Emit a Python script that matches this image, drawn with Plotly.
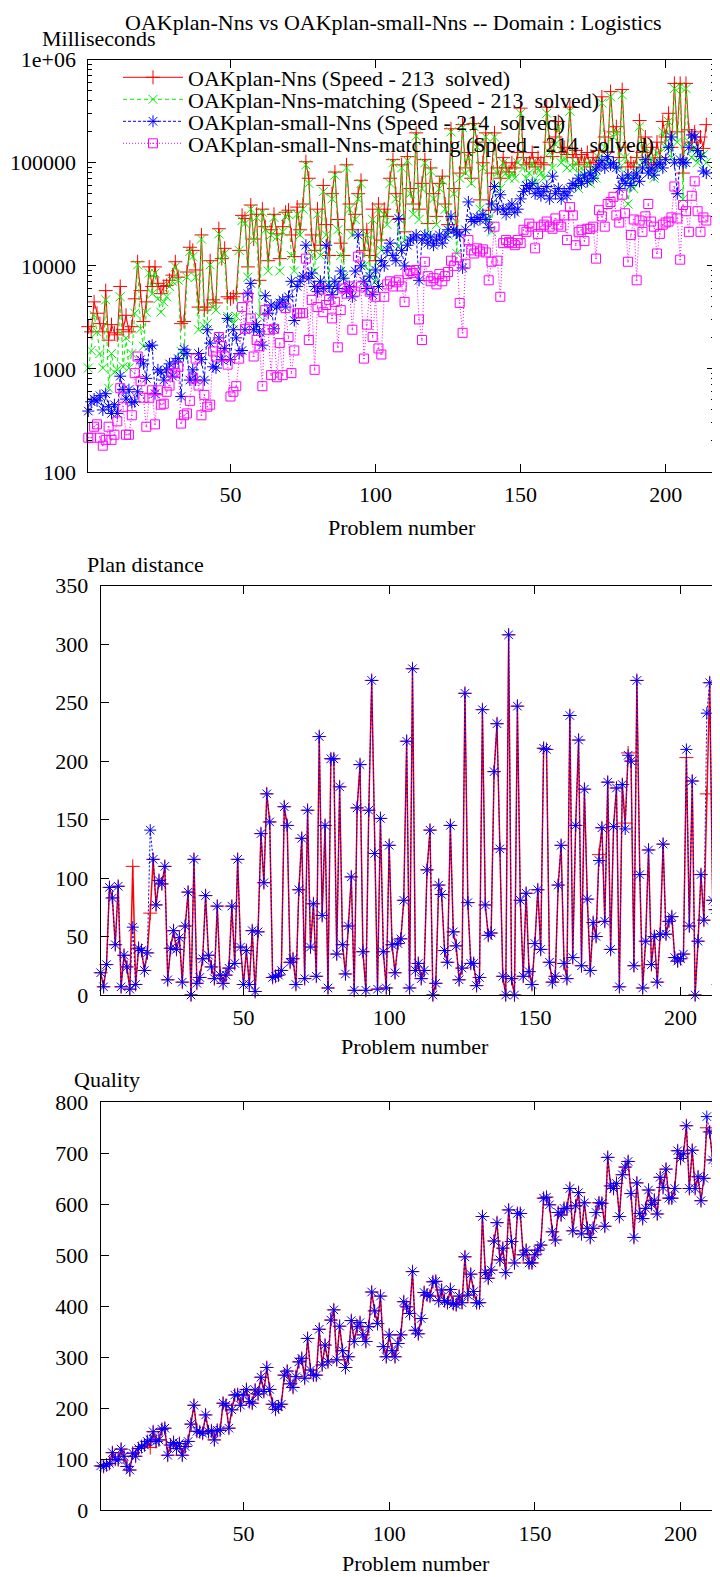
import plotly.graph_objects as go

# The page puts the figure 8 px in from the top-left corner of the window,
# so the figure is sized to end exactly at the window's edges.
WIN_W, WIN_H = 720, 1577
OFF = 8
W, H = WIN_W - OFF, WIN_H - OFF
FONT = "Liberation Serif"
FS = 22

problems = list(range(1, 215))

# ---------------- Top chart: time (milliseconds, log scale) ----------------
speed_nns = [
    2570, 2290, 4470, 3470, 2750, 2290, 5750, 1900, 2690, 2240,
    2140, 6310, 2400, 3310, 2290, 2570, 4790, 10960, 5750, 2880,
    4470, 9770, 6310, 9770, 6760, 5370, 6310, 6460, 7240, 8130,
    10960, 7760, 2750, 2880, 8710, 15140, 14130, 9120, 3980, 19950,
    3720, 3980, 11220, 4680, 4370, 22910, 11750, 14790, 5010, 4790,
    5010, 5370, 14130, 30900, 28840, 9770, 38900, 18200, 31620, 7240,
    35480, 23990, 11220, 22390, 31620, 20420, 11750, 23990, 33110, 34670,
    19950, 12300, 37150, 22390, 39810, 102300, 70790, 19950, 14130, 35480,
    15850, 60260, 25120, 12590, 50120, 81280, 28180, 16600, 12590, 95500,
    39810, 22390, 31620, 50120, 67610, 14130, 22390, 12590, 35480, 11220,
    39810, 17780, 35480, 30200, 70790, 107200, 50120, 28180, 95500, 21380,
    114800, 56230, 39810, 195000, 35480, 63100, 107200, 25700, 89100, 50120,
    30200, 63100, 74130, 39810, 25120, 213800, 56230, 21380, 79430, 234400,
    89130, 125900, 70790, 239900, 158500, 43650, 100000, 195000, 34670, 79430,
    195000, 89130, 70790, 112200, 89130, 81280, 100000, 89130, 125900, 338800,
    112200, 95500, 100000, 125900, 91200, 112200, 100000, 95500, 346700, 158500,
    114800, 177800, 251200, 125900, 141300, 120200, 346700, 112200, 131800, 95500,
    120200, 100000, 125900, 91200, 112200, 100000, 131800, 436500, 177800, 125900,
    489800, 199500, 223900, 112200, 512900, 141300, 91200, 100000, 91200, 112200,
    257000, 125900, 177800, 100000, 141300, 95500, 158500, 112200, 251200, 177800,
    302000, 141300, 588800, 199500, 588800, 79430, 588800, 208900, 158500, 199500,
    138000, 177800, 138000, 234400,
]

speed_nns_matching = [
    1020, 1510, 3310, 2290, 1410, 1020, 4680, 650, 1410, 930,
    980, 5010, 1050, 2000, 1020, 1410, 3470, 10230, 2450, 1660,
    3550, 8510, 5370, 8510, 4790, 3550, 4470, 5010, 6310, 7080,
    9770, 7240, 1480, 1320, 7760, 13800, 12300, 7760, 2400, 18200,
    2570, 2750, 10230, 3980, 3720, 20420, 11220, 13180, 3240, 3090,
    2750, 3240, 14130, 27540, 25700, 7760, 35480, 17780, 29510, 3240,
    33110, 22390, 8910, 19950, 29510, 19050, 8910, 21380, 30200, 31620,
    12590, 8910, 31620, 19950, 35480, 95500, 63100, 12590, 8910, 31620,
    12590, 52480, 19950, 6760, 44670, 75860, 22390, 12590, 7940, 89130,
    35480, 19950, 28180, 44670, 63100, 10000, 19950, 8910, 28180, 7080,
    35480, 14130, 31620, 25120, 63100, 100000, 44670, 15490, 89130, 17780,
    104700, 50120, 31620, 182000, 28180, 56230, 100000, 19950, 83180, 44670,
    25120, 56230, 67610, 35480, 19950, 199500, 50120, 13180, 70790, 218800,
    79430, 112200, 63100, 223900, 141300, 35480, 89130, 177800, 28180, 21380,
    177800, 79430, 56230, 100000, 79430, 70790, 79430, 70790, 100000, 302000,
    89130, 70790, 79430, 100000, 63100, 89130, 79430, 70790, 302000, 125900,
    89130, 151400, 223900, 100000, 112200, 89130, 316200, 89130, 100000, 56230,
    89130, 70790, 100000, 63100, 89130, 70790, 112200, 380200, 141300, 100000,
    436500, 177800, 199500, 89130, 457100, 112200, 39810, 70790, 56230, 89130,
    223900, 100000, 141300, 79430, 112200, 70790, 125900, 89130, 199500, 141300,
    251200, 112200, 524800, 158500, 549500, 44670, 524800, 158500, 112200, 141300,
    100000, 125900, 120200, 100000,
]

speed_small = [
    390, 480, 510, 490, 550, 400, 575, 430, 370, 450,
    370, 850, 630, 510, 630, 470, 480, 600, 1230, 1120,
    810, 1660, 1700, 575, 980, 930, 780, 980, 1120, 850,
    1170, 1260, 540, 1550, 1410, 780, 980, 780, 1410, 1230,
    780, 2400, 1780, 1050, 1020, 2000, 1230, 1580, 3090, 1230,
    2400, 2000, 1410, 1510, 2400, 5370, 6760, 2400, 2690, 2290,
    1700, 5130, 3470, 4170, 2450, 3980, 4370, 4680, 3980, 5010,
    7080, 2950, 6310, 7080, 7940, 15850, 7590, 8510, 6310, 5620,
    7080, 6030, 15850, 6310, 5250, 7080, 6030, 8910, 7590, 5620,
    6310, 5010, 8910, 19950, 10000, 7080, 6030, 7940, 5250, 9120,
    6310, 11220, 10000, 14130, 16600, 12590, 11220, 28840, 14130, 10000,
    15850, 17780, 18620, 19950, 7240, 17780, 19950, 16600, 19050, 15850,
    17780, 19950, 16600, 19050, 22390, 30200, 22390, 20890, 19950, 9550,
    22390, 41690, 28180, 26920, 29510, 28180, 31620, 28180, 23440, 39810,
    58880, 35480, 48980, 35480, 31620, 36310, 39810, 33110, 35480, 44670,
    52480, 60260, 56230, 63100, 50120, 56230, 47860, 52480, 58880, 44670,
    74130, 50120, 56230, 44670, 52480, 47860, 56230, 63100, 60260, 70790,
    63100, 75860, 66070, 79430, 70790, 85110, 95500, 104700, 89130, 114800,
    95500, 100000, 89130, 56230, 70790, 63100, 75860, 60260, 70790, 79430,
    66070, 89130, 107200, 79430, 89130, 75860, 95500, 100000, 89130, 107200,
    141300, 177800, 100000, 50120, 107200, 100000, 100000, 141300, 186200, 177800,
    131800, 114800, 83180, 79430,
]

speed_small_matching = [
    215, 215, 275, 290, 215, 180, 205, 275, 205, 230,
    310, 650, 430, 230, 230, 355, 910, 1320, 760, 525,
    275, 525, 620, 290, 620, 450, 460, 600, 690, 910,
    910, 1050, 295, 355, 370, 490, 810, 1260, 690, 355,
    560, 430, 450, 1480, 1320, 2040, 1660, 1320, 1100, 540,
    600, 680, 1260, 3980, 2450, 5010, 3090, 1320, 1910, 1660,
    680, 3720, 2400, 870, 2450, 830, 1780, 870, 3890, 2040,
    910, 1510, 3470, 3470, 3470, 11750, 1910, 4680, 980, 3980,
    5890, 3550, 4170, 4680, 3090, 4470, 1620, 3720, 6030, 5370,
    6310, 2400, 5620, 12300, 6310, 1260, 2690, 5620, 2040, 5010,
    1580, 1380, 5010, 6610, 7080, 6310, 6920, 7240, 6310, 4470,
    8320, 8910, 8510, 9120, 3020, 1910, 10960, 7940, 7080, 7590,
    6610, 8320, 7080, 7940, 8710, 11220, 10000, 12020, 4370, 2240,
    10470, 17780, 14130, 13180, 14790, 13800, 14450, 13490, 7240, 10960,
    23990, 11220, 5010, 16600, 17780, 16980, 16600, 15850, 17780, 16600,
    22390, 21380, 25700, 23990, 14790, 20420, 23990, 25120, 26920, 23990,
    22910, 28840, 25120, 23990, 30900, 17780, 37150, 30900, 15850, 21380,
    22390, 17380, 22910, 22910, 23990, 11750, 34670, 30200, 23990, 39810,
    41690, 46770, 30900, 26300, 48980, 32360, 10960, 19950, 28180, 7240,
    27540, 21380, 30200, 39810, 26920, 23990, 13180, 20420, 25120, 26300,
    26920, 29510, 58880, 28840, 11480, 38900, 33880, 21380, 47860, 66070,
    33880, 21380, 29510, 27540,
]

# ---------------- Middle chart: plan distance ----------------
dist_small = [
    19, 7, 26, 92, 83, 43, 93, 7, 34, 24,
    5, 58, 9, 40, 38, 21, 36, 141, 116, 77,
    98, 95, 110, 13, 40, 55, 39, 49, 11, 59,
    88, 0, 116, 10, 15, 31, 85, 34, 24, 14,
    76, 17, 10, 17, 23, 76, 27, 116, 41, 9,
    38, 9, 55, 3, 54, 138, 96, 172, 148, 15,
    16, 17, 21, 161, 145, 28, 31, 9, 90, 134,
    14, 158, 41, 78, 16, 221, 68, 145, 6, 202,
    202, 35, 178, 43, 18, 59, 101, 4, 160, 197,
    37, 4, 158, 269, 121, 5, 151, 37, 6, 128,
    43, 19, 44, 48, 81, 217, 6, 279, 21, 27,
    14, 21, 107, 141, 0, 10, 94, 86, 38, 28,
    145, 54, 42, 13, 23, 258, 79, 27, 27, 8,
    15, 244, 77, 51, 53, 191, 232, 125, 16, 0,
    308, 14, 0, 247, 81, 16, 87, 20, 9, 44,
    90, 39, 211, 210, 28, 11, 16, 94, 128, 27,
    14, 239, 32, 145, 218, 25, 176, 82, 21, 62,
    50, 115, 143, 63, 182, 39, 144, 177, 7, 180,
    142, 205, 200, 25, 269, 103, 6, 46, 124, 26,
    50, 11, 52, 129, 52, 63, 67, 32, 29, 31,
    35, 210, 59, 183, 0, 46, 103, 64, 241, 267,
    81, 73, 9, 5,
]
# OAKplan-Nns differs from OAKplan-small-Nns only at these problems
dist_nns_diff = {12: 110, 18: 70, 172: 120, 181: 147, 182: 207, 202: 203, 209: 172}
dist_nns = [dist_nns_diff.get(p, v) for p, v in zip(problems, dist_small)]

# ---------------- Bottom chart: quality ----------------
quality_small = [
    87, 86, 89, 92, 113, 100, 99, 120, 106, 86,
    79, 112, 106, 121, 125, 128, 135, 138, 154, 135,
    138, 159, 161, 108, 128, 133, 121, 131, 108, 125,
    135, 169, 206, 155, 154, 151, 187, 154, 156, 138,
    157, 157, 210, 206, 161, 197, 226, 227, 206, 226,
    237, 213, 210, 236, 228, 261, 233, 280, 237, 208,
    198, 203, 208, 265, 273, 248, 241, 262, 291, 298,
    259, 337, 275, 265, 265, 355, 285, 324, 291, 373,
    393, 295, 361, 313, 280, 301, 372, 331, 360, 368,
    344, 331, 360, 428, 391, 366, 420, 321, 301, 344,
    313, 301, 327, 344, 409, 399, 386, 468, 353, 346,
    376, 427, 422, 420, 448, 449, 411, 432, 411, 407,
    433, 405, 403, 420, 407, 497, 422, 463, 429, 407,
    407, 576, 466, 455, 471, 528, 564, 491, 514, 466,
    589, 527, 485, 582, 582, 501, 510, 485, 485, 501,
    510, 520, 612, 614, 599, 546, 530, 584, 579, 592,
    592, 631, 548, 597, 623, 542, 603, 553, 535, 553,
    584, 603, 602, 557, 692, 636, 631, 641, 576, 658,
    673, 684, 621, 535, 642, 582, 572, 592, 628, 600,
    608, 581, 653, 633, 669, 612, 612, 631, 705, 690,
    699, 754, 631, 706, 631, 654, 607, 651, 772, 742,
    687, 687, 674, 648,
]
quality_nns_diff = {18: 123, 209: 750}
quality_nns = [quality_nns_diff.get(p, v) for p, v in zip(problems, quality_small)]

time_tickvals = [100, 1000, 10000, 100000, 1000000]
time_ticktext = ["100", "1000", "10000", "100000", "1e+06"]
x_tickvals = [50, 100, 150, 200]

legend_names = [
    "OAKplan-Nns (Speed - 213\u00a0 solved)",
    "OAKplan-Nns-matching (Speed - 213\u00a0 solved)",
    "OAKplan-small-Nns (Speed - 214\u00a0 solved)",
    "OAKplan-small-Nns-matching (Speed - 214\u00a0 solved)",
]

RED, GREEN, BLUE, MAGENTA = "#ff0000", "#00ee00", "#0000ff", "#ff00ff"


def fx(p):
    """window x pixel -> paper fraction"""
    return (p - OFF) / W


def fy(p):
    """window y pixel -> paper fraction"""
    return 1 - (p - OFF) / H


fig = go.Figure()

legend_ids = ["legend", "legend2", "legend3", "legend4"]
legend_rows = [77.5, 99.5, 121.5, 143.5]

top_series = [
    (speed_nns, RED, "solid", "cross-thin-open", 10),
    (speed_nns_matching, GREEN, "4px,3px", "x-thin-open", 9),
    (speed_small, BLUE, "3px,2px", "asterisk-open", 10),
    (speed_small_matching, MAGENTA, "1px,2px", "square-open-dot", 9),
]
for (vals, col, dash, sym, sz), name, lg in zip(top_series, legend_names, legend_ids):
    fig.add_trace(go.Scatter(
        x=problems, y=vals, name=name, mode="lines+markers", legend=lg,
        line=dict(color=col, width=1, dash=dash),
        marker=dict(symbol=sym, size=sz, color=col, line=dict(color=col, width=1)),
        cliponaxis=False, xaxis="x", yaxis="y",
    ))

for vals, col, dash, sym, width, ax in [
    (dist_nns, RED, "solid", "cross-thin-open", 1.5, "2"),
    (dist_small, BLUE, "2px,2px", "asterisk-open", 1, "2"),
    (quality_nns, RED, "solid", "cross-thin-open", 1.5, "3"),
    (quality_small, BLUE, "2px,2px", "asterisk-open", 1, "3"),
]:
    fig.add_trace(go.Scatter(
        x=problems, y=vals, mode="lines+markers", showlegend=False,
        line=dict(color=col, width=width, dash=dash),
        marker=dict(symbol=sym, size=10, color=col, line=dict(color=col, width=1)),
        cliponaxis=False, xaxis="x" + ax, yaxis="y" + ax,
    ))

tickfont = dict(family=FONT, size=FS, color="black")
common_x = dict(
    tickvals=x_tickvals, ticks="inside", ticklen=8, tickcolor="black",
    showline=True, linecolor="black", linewidth=1, mirror="ticks",
    showgrid=False, zeroline=False, tickfont=tickfont, ticklabelstandoff=3,
    automargin=False,
)
common_y = dict(
    ticks="inside", ticklen=8, tickcolor="black",
    showline=True, linecolor="black", linewidth=1,
    showgrid=False, zeroline=False, tickfont=tickfont, ticklabelstandoff=7,
    automargin=False,
)

minor_log = [m * 10 ** e for e in range(2, 6) for m in range(2, 10)]

legend_layout = {}
for lg, row in zip(legend_ids, legend_rows):
    legend_layout[lg] = dict(
        x=fx(118), y=fy(row), xanchor="left", yanchor="middle",
        bgcolor="rgba(0,0,0,0)", borderwidth=0, itemwidth=60,
        font=dict(family=FONT, size=FS, color="black"),
    )

fig.update_layout(
    template="none",
    width=W, height=H,
    margin=dict(l=0, r=0, t=0, b=0, pad=0, autoexpand=False),
    paper_bgcolor="white", plot_bgcolor="white",
    font=dict(family=FONT, size=FS, color="black"),
    xaxis=dict(domain=[fx(88.3), fx(715)], range=[1, 217], anchor="y", **common_x),
    yaxis=dict(domain=[fy(472), fy(59.7)], type="log", range=[2, 6], anchor="x",
               tickvals=time_tickvals, ticktext=time_ticktext, mirror="ticks",
               minor=dict(tickvals=minor_log, ticks="inside", ticklen=4, tickcolor="black"),
               **common_y),
    xaxis2=dict(domain=[fx(100.7), 1.0], range=[1, 213.53], anchor="y2", **common_x),
    yaxis2=dict(domain=[fy(995), fy(585.7)], range=[0, 350], dtick=50, anchor="x2",
                mirror=False, **common_y),
    xaxis3=dict(domain=[fx(100.7), 1.0], range=[1, 213.53], anchor="y3", **common_x),
    yaxis3=dict(domain=[fy(1510.3), fy(1102.3)], range=[0, 800], dtick=100, anchor="x3",
                mirror=False, **common_y),
    showlegend=True,
    **legend_layout,
)

# title: box top kept at the top edge of the figure
fig.add_annotation(text="OAKplan-Nns vs OAKplan-small-Nns -- Domain : Logistics",
                   x=fx(393), y=1.0, xref="paper", yref="paper",
                   xanchor="center", yanchor="top", showarrow=False,
                   font=dict(family=FONT, size=FS, color="black"))

texts = [
    ("Milliseconds", 40, 38, "left"),
    ("Problem number", 402, 528, "center"),
    ("Plan distance", 85, 565, "left"),
    ("Problem number", 415, 1046, "center"),
    ("Quality", 72, 1079, "left"),
    ("Problem number", 416, 1563, "center"),
]
for t, x, y, anchor in texts:
    fig.add_annotation(text=t, x=fx(x), y=fy(y), xref="paper", yref="paper",
                       xanchor=anchor, yanchor="middle", showarrow=False,
                       font=dict(family=FONT, size=FS, color="black"))

fig.write_html("out.html")
